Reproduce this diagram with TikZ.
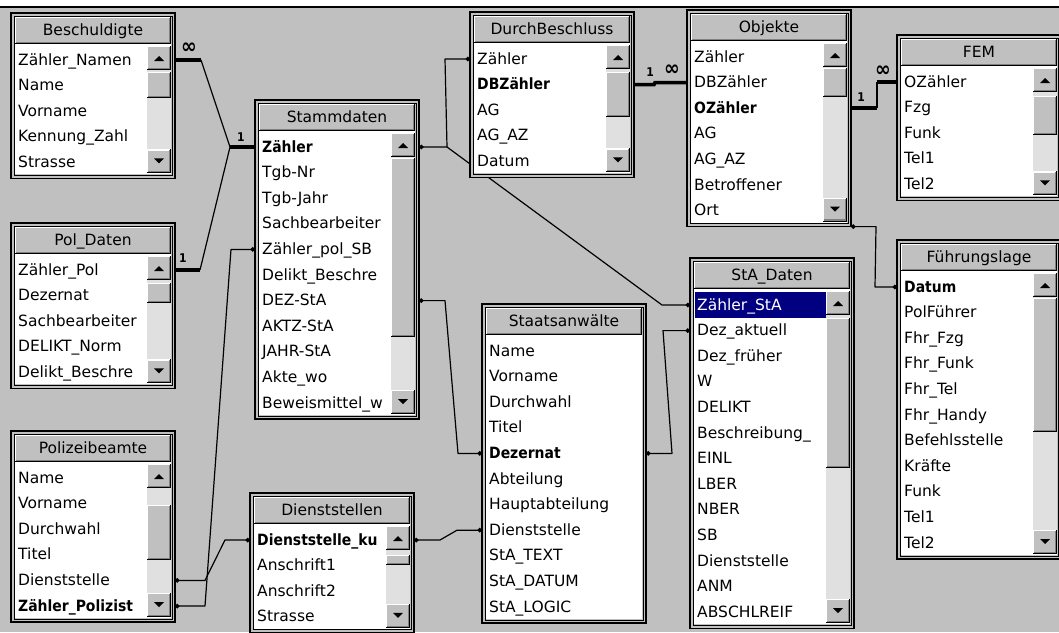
\documentclass[tikz,border=0pt]{standalone}
\usepackage{fontspec}
\setmainfont{DejaVu Sans}[BoldFeatures={FakeStretch=0.9}]
\usetikzlibrary{calc,arrows.meta}

\definecolor{winGray}{RGB}{192,192,192}
\definecolor{winDark}{RGB}{128,128,128}
\definecolor{stipple}{RGB}{224,224,224}
\definecolor{selNavy}{RGB}{0,0,128}

\pgfdeclarelayer{canvas}
\pgfdeclarelayer{links}
\pgfsetlayers{canvas,links,main}

\newcommand{\fieldfont}{\fontsize{15.5}{18}\selectfont}

% raised button: x1, y1, x2, y2
\newcommand{\winbtn}[4]{%
  \fill[winGray] (#1,#2) rectangle (#3,#4);
  \draw[white, line width=1.2pt] (#1+0.6,#4-1) -- (#1+0.6,#2+0.6) -- (#3-1,#2+0.6);
  \draw[winDark, line width=1.2pt] (#1+1,#4-1.6) -- (#3-1.6,#4-1.6) -- (#3-1.6,#2+1);
  \draw[black, line width=1pt] (#1,#4-0.5) -- (#3-0.5,#4-0.5) -- (#3-0.5,#2);
}

% table: name, x, top, rows, title, fields, thumb top, thumb bottom, selected row
\newcommand{\dbtable}[9]{%
  \pgfmathsetmacro\tx{#2+164}
  \pgfmathsetmacro\tb{#3+63+25.6*(#4-1)}
  \draw[line width=1.3pt, fill=winGray] (#2,#3) rectangle (\tx,\tb);
  \draw[line width=0.9pt] (#2+3,#3+3) rectangle (\tx-3,\tb-3);
  \winbtn{#2+4}{#3+4}{\tx-4}{#3+31}
  \node[tabtitle] (#1) at ({(#2+\tx)/2},#3+17.5) {#5};
  \fill[white] (#2+4,#3+31) rectangle (\tx-4,\tb-4);
  \ifdim #7pt>0pt \pgfmathsetmacro\sx{\tx-28}\else \pgfmathsetmacro\sx{\tx-4}\fi
  \begin{scope}
    \clip (#2+4,#3+31) rectangle (\sx,\tb-4);
    \foreach \fld [count=\i] in {#6} {
      \pgfmathsetmacro\ry{#3+47+25.6*(\i-1)}
      \ifnum\i=#9\relax
        \fill[selNavy] (#2+5,\ry-13) rectangle (\sx,\ry+13);
        \node[field, text=white] (#1-\i) at (#2+7,\ry) {\fld};
      \else
        \node[field] (#1-\i) at (#2+7,\ry) {\fld};
      \fi
      \coordinate (#1-\i-l) at (#2,\ry);
      \coordinate (#1-\i-r) at (\tx,\ry);
    }
  \end{scope}
  \coordinate (#1-low) at (\tx,\tb);
  \ifdim #7pt>0pt
    \fill[stipple] (\sx,#3+33) rectangle (\tx-4,\tb-5);
    \winbtn{\sx}{#3+33}{\tx-4}{#3+57}
    \winbtn{\sx}{\tb-29}{\tx-4}{\tb-5}
    \winbtn{\sx}{#7}{\tx-4}{#8}
    \fill (\sx+7,#3+48) -- (\sx+17,#3+48) -- (\sx+12,#3+43) -- cycle;
    \fill (\sx+7,\tb-20) -- (\sx+17,\tb-20) -- (\sx+12,\tb-15) -- cycle;
  \fi
}

\begin{document}
\begin{tikzpicture}[
    x=1pt, y=-1pt,
    field/.style={anchor=west, inner sep=0pt, text height=11pt, text depth=1pt, font=\fieldfont},
    tabtitle/.style={inner sep=0pt, text height=11pt, text depth=1pt, font=\fieldfont},
    card/.style={inner sep=0pt, font=\bfseries\fontsize{12}{12}\selectfont},
    many/.style={inner sep=0pt, font=\bfseries\fontsize{21}{21}\selectfont},
    link/.style={line width=1.2pt, line join=round},
    strong/.style={line width=3.6pt},
    both/.style={{Circle[length=4.5pt]}-{Circle[length=4.5pt]}},
    endpt/.style={-{Circle[length=4.5pt]}}
]
\useasboundingbox (0,0) rectangle (1059,632);

% Window background
\begin{pgfonlayer}{canvas}
\fill[winGray] (0,0) rectangle (1059,632);
\fill[white] (0,0) rectangle (1059,5.5);
\draw[line width=2pt] (0,6.5) -- (1059,6.5);
\end{pgfonlayer}

% Left column
\dbtable{besch}{11}{13}{5}{Beschuldigte}{Zähler\_Namen, Name, Vorname, Kennung\_Zahl, Strasse}{72}{98}{0}
\dbtable{pol}{11}{223}{5}{Pol\_Daten}{Zähler\_Pol, Dezernat, Sachbearbeiter, DELIKT\_Norm, Delikt\_Beschre}{283}{303}{0}
\dbtable{polb}{11}{431}{6}{Polizeibeamte}{Name, Vorname, Durchwahl, Titel, Dienststelle, \textbf{Zähler\_Polizist}}{505}{560}{0}

% Middle
\dbtable{stamm}{255}{100}{11}{Stammdaten}{\textbf{Zähler}, Tgb-Nr, Tgb-Jahr, Sachbearbeiter, Zähler\_pol\_SB, Delikt\_Beschre, DEZ-StA, AKTZ-StA, JAHR-StA, Akte\_wo, Beweismittel\_w}{158}{337}{0}
\dbtable{dienst}{250}{493}{4}{Dienststellen}{\textbf{Dienststelle\_ku}, Anschrift1, Anschrift2, Strasse}{555}{565}{0}
\dbtable{db}{470}{12}{5}{DurchBeschluss}{Zähler, \textbf{DBZähler}, AG, AG\_AZ, Datum}{72}{117}{0}
\dbtable{sta}{482}{304}{11}{Staatsanwälte}{Name, Vorname, Durchwahl, Titel, \textbf{Dezernat}, Abteilung, Hauptabteilung, Dienststelle, StA\_TEXT, StA\_DATUM, StA\_LOGIC}{0}{0}{0}

% Right
\dbtable{obj}{687}{10}{7}{Objekte}{Zähler, DBZähler, \textbf{OZähler}, AG, AG\_AZ, Betroffener, Ort}{68}{97}{0}
\dbtable{stad}{690}{258}{13}{StA\_Daten}{Zähler\_StA, Dez\_aktuell, Dez\_früher, W, DELIKT, Beschreibung\_, EINL, LBER, NBER, SB, Dienststelle, ANM, ABSCHLREIF}{318}{468}{1}
\dbtable{fem}{897}{35}{5}{FEM}{OZähler, Fzg, Funk, Tel1, Tel2}{96}{135}{0}
\dbtable{fuehr}{897}{240}{11}{Führungslage}{\textbf{Datum}, PolFührer, Fhr\_Fzg, Fhr\_Funk, Fhr\_Tel, Fhr\_Handy, Befehlsstelle, Kräfte, Funk, Tel1, Tel2}{298}{432}{0}

% Relationships
\begin{pgfonlayer}{links}
\coordinate (jz) at ($(stamm-1-l)+(-25,0)$);
\coordinate (je) at ($(stamm-1-r)+(28,0)$);
\draw[strong] (besch-1-r) -- ++(26,0) coordinate (jb);
\draw[link] (jb) -- (jz);
\draw[strong] (pol-1-r) -- ++(25,0) coordinate (jp);
\draw[link] (jp) -- (jz);
\draw[strong] (jz) -- (stamm-1-l);
\draw[link, both] (stamm-5-l) -- ++(-24,0) -- ($(polb-6-r)+(30,0)$) -- (polb-6-r);
\draw[link, both] (polb-5-r) -- ++(30,0) -- ($(dienst-1-l)+(-25,0)$) -- (dienst-1-l);
\draw[link, both] (stamm-1-r) -- (je) -- ($(db-1-l)+(-25,0)$) -- (db-1-l);
\draw[link, endpt] (je) -- ($(stad-1-l)+(-28,0)$) -- (stad-1-l);
\draw[link, both] (stamm-7-r) -- ++(26,0) -- ($(sta-5-l)+(-24,0)$) -- (sta-5-l);
\draw[link, both] (dienst-1-r) -- ++(26,0) -- ($(sta-8-l)+(-25,0)$) -- (sta-8-l);
\draw[link, both] (sta-5-r) -- ++(26,0) -- ($(stad-2-l)+(-27,0)$) -- (stad-2-l);
\draw[strong] (db-2-r) -- ++(20,0) -- ($(obj-2-l)+(-32,0)$) -- (obj-2-l);
\draw[strong] (obj-3-r) -- ++(26,0) coordinate (k1);
\coordinate (k2) at ($(fem-1-l)+(-20,0)$);
\draw[link] (k1) -- (k2);
\draw[strong] (k2) -- (fem-1-l);
\draw[link, both] (obj-low) -- ++(25,0) -- ($(fuehr-1-l)+(-22,0)$) -- (fuehr-1-l);
\end{pgfonlayer}

% Cardinalities
\node[many] (besch-n) at ($(besch-1-r)+(14,-12)$) {∞};
\node[card] (stamm-one) at ($(stamm-1-l)+(-14,-10)$) {1};
\node[card] (pol-one) at ($(pol-1-r)+(8,-12)$) {1};
\node[card] (db-one) at ($(db-2-r)+(16,-12)$) {1};
\node[many] (obj-n) at ($(obj-2-l)+(-15,-12)$) {∞};
\node[card] (obj-one) at ($(obj-3-r)+(10,-11)$) {1};
\node[many] (fem-n) at ($(fem-1-l)+(-14,-11)$) {∞};

\end{tikzpicture}
\end{document}
